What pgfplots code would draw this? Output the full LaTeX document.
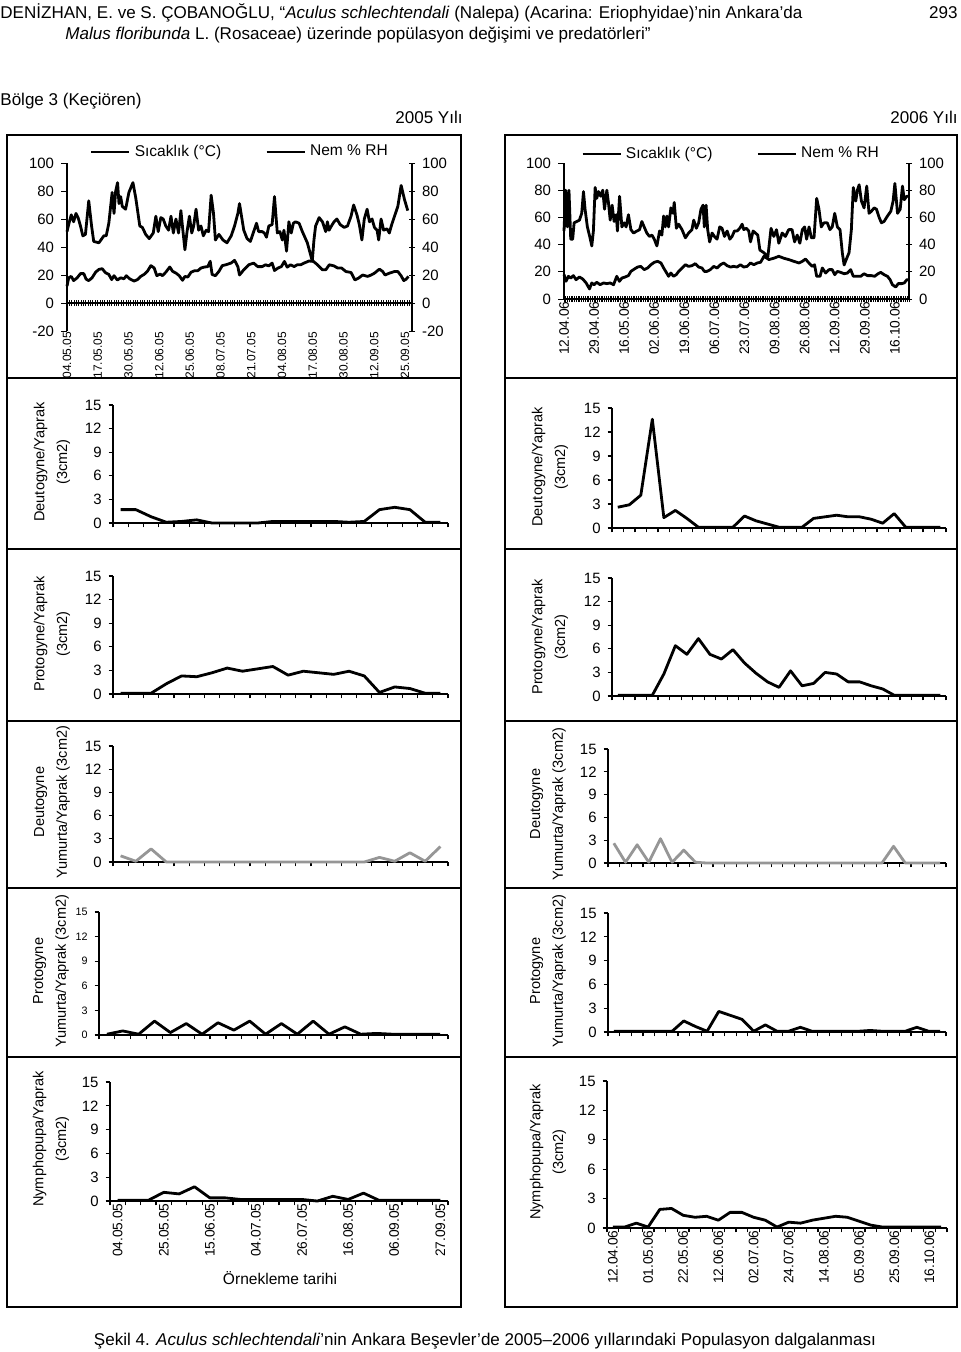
\documentclass[border=0pt]{standalone}
\usepackage{fontspec}
\setmainfont{Liberation Sans}
\usepackage{pgfplots}
\pgfplotsset{compat=1.18}
\newcommand\fh{\fontsize{8.55}{10}\selectfont}
\newcommand\fc{\fontsize{8.55}{10}\selectfont}
\newcommand\ft{\fontsize{7.5}{9}\selectfont}
\newcommand\fts{\fontsize{5.4}{6}\selectfont}
\newcommand\fl{\fontsize{7.3}{11.5}\selectfont}
\newcommand\fd{\fontsize{6.9}{8}\selectfont}
\newcommand\fdd{\fontsize{6.0}{7}\selectfont}
\newcommand\fg{\fontsize{7.8}{9}\selectfont}
\definecolor{lgray}{RGB}{150,150,150}
\pgfplotsset{
  /pgf/number format/assume math mode=true,
  panel/.style={
    scale only axis, anchor=south west, clip=false,
    axis x line*=bottom, axis y line*=left,
    ymin=0, ymax=15, ytick={0,3,...,15},
    tick align=outside, major tick length=2.2bp,
    tick style={black, line width=0.6bp},
    axis line style={black, line width=0.6bp},
    yticklabel style={font=\ft},
    xticklabels={},
  },
  lpanel/.style={panel, xmin=-0.5, xmax=21.5, xtick={-0.5,0.5,...,21.5}},
  rpanel/.style={panel, xmin=-0.5, xmax=28.5, xtick={-0.5,0.5,...,28.5}},
  dline/.style={black, line width=1.4bp, mark=none, line join=round},
  gline/.style={lgray, line width=1.4bp, mark=none, line join=round},
  clim/.style={
    scale only axis, anchor=south west, clip=false,
    major tick length=3bp,
    tick style={black, line width=0.5bp},
    axis line style={black, line width=0.6bp},
    yticklabel style={font=\ft},
  },
}
\begin{document}
\begin{tikzpicture}[x=0.5bp,y=-0.5bp]
\useasboundingbox (0,0) rectangle (960,1352);
% ---------- header ----------
\node[anchor=base west, inner sep=0, font=\fh] at (0,19) {DENİZHAN, E. ve S. ÇOBANOĞLU, “\textit{Aculus schlechtendali} (Nalepa) (Acarina: Eriophyidae)’nin Ankara’da};
\node[anchor=base east, inner sep=0, font=\fh] at (958,19) {293};
\node[anchor=base west, inner sep=0, font=\fh] at (65,40) {\textit{Malus floribunda} L. (Rosaceae) üzerinde popülasyon değişimi ve predatörleri”};
\node[anchor=base west, inner sep=0, font=\fh] at (0,106) {Bölge 3 (Keçiören)};
\node[anchor=base, inner sep=0, font=\fh] at (429,124) {2005 Yılı};
\node[anchor=base east, inner sep=0, font=\fh] at (958,124) {2006 Yılı};
% ---------- frames ----------
\foreach \a/\b in {135/378,378/549,549/721,721/888,888/1057,1057/1307}{
  \draw[line width=1bp] (7,\a) rectangle (461,\b);
  \draw[line width=1bp] (505,\a) rectangle (957,\b);
}
% ---------- 2005 climate ----------
\begin{axis}[clim, at={(33.5bp,-165.5bp)}, width=172.5bp, height=84bp,
  xmin=0, xmax=146, ymin=-20, ymax=100,
  axis y line*=left, axis x line*=middle,
  ytick={-20,0,...,100}, ytick align=outside,
  xtick={0,1,...,146}, xticklabels={}, xtick align=center,
  legend style={at={(0.504,1.065)}, anchor=center, draw=none, fill=none, legend columns=2, font=\fg, /tikz/every even column/.append style={column sep=20bp}},
  legend image code/.code={\draw[#1] (0bp,0bp) -- (19bp,0bp);},
]
\addplot[dline] coordinates {(0,12)(0.7,18)(1.8,19)(2.8,16)(4.3,18)(5.7,21)(7.1,21)(8.1,17)(9.2,16)(10.6,18)(12.1,22)(13.5,24)(14.9,24.5)(16.3,21.6)(17.7,20.4)(18.9,16.7)(19.9,19.5)(21.3,16.4)(22.7,18)(24.1,17.3)(25.1,19.5)(26.5,17.3)(28.4,15.7)(29.8,16.7)(31.2,19)(32.6,20.4)(34,22.6)(35.5,26.7)(36.9,25)(38,19.5)(39.4,20.7)(40.4,19.5)(41.8,22)(43.5,25.7)(44.7,22.6)(46.1,21.4)(47.5,19.5)(48.9,16.2)(49.9,19)(51.1,18.5)(52.5,22)(53.9,23)(55.3,23)(56.7,25)(58.2,25.7)(59.6,26)(60.6,29.8)(61.4,20.4)(62.8,19.5)(64.3,22.6)(65.7,26.7)(67.4,27.4)(69.5,28.6)(70.9,30.5)(72.3,26)(73,20)(74.8,23.7)(76.9,27.3)(79,28.5)(80.7,26)(82.6,26)(84,27.3)(85.4,26.5)(86.8,28.5)(87.8,23.2)(89.2,24.9)(90.7,26)(92,29.7)(93.2,25.6)(94.6,27.3)(96.1,26)(97.4,27.3)(98.9,27.3)(100.3,28.5)(102.4,30)(104.3,29.7)(106,27.3)(108.1,23.7)(109.5,23.7)(111,27.3)(113,26.5)(114.5,25)(116.2,25)(118,22.5)(120.2,21.8)(121.8,16.5)(123.3,17.7)(125.1,20)(127.2,19)(128.7,20)(130.1,21.3)(132.2,24.2)(133.6,22.5)(134.6,20)(136.4,21.3)(138.6,22.5)(140,22.5)(141.4,19.4)(142.5,16)(143.5,17)(144.5,19)};
\addlegendentry{Sıcaklık (°C)}
\addplot[dline] coordinates {(0,51)(0.7,56)(1.8,63)(2.8,58)(3.8,64)(4.7,61)(5.7,55)(6.7,48)(7.8,49)(9.2,73)(10.4,55)(11.3,44)(13.5,43)(15.6,48)(16.6,48)(17.7,57)(19.1,79)(19.9,64)(20.6,80)(21.4,86)(22,71)(22.7,76)(23.4,69)(24.8,67)(26.2,79)(27.9,86)(29.1,75)(30.8,55)(31.9,54)(33.3,49)(34.8,46)(36.5,50)(37.6,62)(38.6,51)(39.7,61)(40.7,60)(41.8,55)(43,52)(44,62)(45,50)(46.1,60)(47.2,50)(48.2,66)(48.9,54)(49.9,38)(50.8,51)(51.8,62)(52.8,50)(53.6,55)(54.6,67)(55.7,52)(56.7,55)(57.7,48)(58.9,52)(59.9,51)(61,77)(62,64)(62.8,45)(64.3,49)(66,45)(67.7,43)(69.5,48)(70.9,55)(72.3,64)(73,71)(74.8,52)(76.2,46)(77.6,44)(79,51)(80.2,57)(81.1,51)(82.6,51)(83.5,50)(84.4,47)(85.4,55)(86.8,56)(87.8,76)(89,50)(90.1,51)(91.1,45)(91.8,52)(92.9,37)(93.9,58)(94.9,50)(95.8,57)(96.7,58)(98.2,57)(99.6,51)(101.7,43)(103.8,30)(104.5,45)(105.2,55)(106.7,61)(108.1,58)(109.5,51)(110.2,58)(110.9,52)(111.9,55)(113,58)(114.2,60)(115.6,56)(117.3,54)(118.7,55)(120.2,62)(121.3,70)(122.7,63)(123.7,56)(124.8,45)(125.8,60)(127,67)(128,58)(129.1,60)(130.1,54)(131.2,52)(131.9,45)(132.9,60)(134,52)(135.4,53)(136.4,50)(137.4,56)(138.6,62)(140,69)(141.4,84)(142.8,74)(144.2,66)};
\addlegendentry{Nem \% RH}
\end{axis}
\begin{axis}[clim, at={(33.5bp,-165.5bp)}, width=172.5bp, height=84bp,
  xmin=0, xmax=146, ymin=-20, ymax=100,
  axis y line*=right, axis x line*=bottom, x axis line style={draw=none},
  ytick={-20,0,...,100}, ytick align=center,
  xtick={0,13,...,143}, xtick style={draw=none},
  xticklabels={04.05.05,17.05.05,30.05.05,12.06.05,25.06.05,08.07.05,21.07.05,04.08.05,17.08.05,30.08.05,12.09.05,25.09.05},
  xticklabel style={rotate=90, anchor=east, font=\fdd, inner sep=0.3bp},
]
\end{axis}
% ---------- 2006 climate ----------
\begin{axis}[clim, at={(282bp,-149.5bp)}, width=172.5bp, height=68bp,
  xmin=0, xmax=195, ymin=0, ymax=100,
  axis y line*=left, axis x line*=bottom,
  ytick={0,20,...,100}, ytick align=outside,
  xtick={0,1,...,195}, xticklabels={}, xtick align=center,
  legend style={at={(0.487,1.066)}, anchor=center, draw=none, fill=none, legend columns=2, font=\fg, /tikz/every even column/.append style={column sep=20bp}},
  legend image code/.code={\draw[#1] (0bp,0bp) -- (19bp,0bp);},
]
\addplot[dline] coordinates {(0,18)(1.1,13)(2.5,16.7)(3.8,15.4)(5.3,17.2)(6.8,14.2)(8.7,16.2)(10.6,14.7)(12.5,11.8)(14.4,7.4)(15.7,11.8)(17,10.5)(18.5,12.3)(20.4,10.5)(22.3,11.8)(24.2,11.3)(26.1,11.8)(28,10.5)(29.8,16.7)(31.3,13)(32.7,15.4)(34.6,16.2)(36.4,17.2)(37.8,20.3)(39.7,22)(41.6,23.5)(43.4,24)(45.3,21.6)(47.2,22.8)(49.1,25.2)(51,27)(52.9,27.7)(54.8,26.5)(56.3,22.8)(57.8,19.6)(59.1,16.7)(60.4,19.1)(61.9,16.7)(63.4,17.9)(64.8,20.3)(66.7,22.8)(68.6,25.2)(70.4,24)(72.3,24.5)(74.2,26)(76.1,23.5)(78,22.8)(79.3,20.3)(80.8,20.3)(82.7,21.6)(84.6,24)(86.5,22.8)(88.4,25.2)(90.3,26.5)(92.2,24.5)(94.1,23.5)(95.9,24)(97.8,23.5)(99.7,25.2)(101.6,23.5)(103.5,24)(105.4,26.5)(107.3,25.2)(109.2,26.5)(111.1,27)(113,31.4)(115.8,29)(118.6,30)(121.4,31.4)(124.2,30)(127,29)(129.9,27.7)(132.8,26.5)(134.7,27.7)(136.5,29.4)(138.4,26.5)(140.3,24)(141.6,25.2)(142.8,16.7)(144.7,16.7)(146,22.8)(147.9,19.1)(149.8,21.6)(151.6,21.6)(153,17.9)(154.5,20.3)(156.4,19.6)(158.3,18.6)(160.2,19.1)(162,21.6)(163.5,16.7)(165.8,16.7)(167.7,16.7)(169.6,18.6)(171.5,17.2)(173.7,17.2)(175.6,16.7)(177.5,18.6)(179,19.6)(180.9,17.9)(182.8,16.7)(184.3,14.2)(185.6,10.5)(187.5,8.8)(188.9,11.3)(190.8,11.3)(192.3,11.8)(193.8,14.2)(194.7,14.2)};
\addlegendentry{Sıcaklık (°C)}
\addplot[dline] coordinates {(0,50)(0.9,80)(1.9,53)(2.8,80)(3.8,44)(4.9,44)(5.7,56)(7.2,57)(8.7,58)(10,63)(11,79)(11.9,66)(13.2,53)(14.7,45)(15.7,39)(16.6,50)(17.6,82)(18.5,74)(19.5,79)(20.8,75.5)(21.9,80)(22.9,66)(24.2,80)(25.1,71)(26.1,58)(27.2,69)(28.3,57)(29.5,62)(30.2,50)(31.4,75.5)(32.7,53)(34,56)(35.1,53)(36.4,62)(37.8,51)(39.3,48.5)(41.2,50)(42.7,51)(44,57)(45.3,53)(46.8,48.5)(48.3,46)(49.7,47)(51,44)(52.5,39)(54,50)(55.3,47)(56.3,61)(57.2,53)(58.2,61)(59.1,53)(60.4,67)(61.6,63)(62.3,71)(63.5,52)(64.8,55)(66.7,51)(68.6,45)(70.4,48.5)(72.3,51)(73.3,58)(74.8,52)(76.1,56)(77.4,66)(78.6,69)(79.3,53)(80.3,69)(81.2,51)(82.3,42)(83.7,48.5)(85,46)(86.5,44)(88,53)(89.3,52)(90.7,46)(92.2,50)(93.7,44)(95,46)(96.3,50)(97.8,50)(99.3,52)(100.7,55)(101.6,51)(103.1,52)(104.4,50)(105.4,42)(106.9,50)(108.2,48.5)(109.5,47)(110.7,36)(113,34)(115.2,31)(117,52)(118.6,46)(120.1,51)(121.4,41)(123.3,48.5)(125.1,46)(127,51)(128.9,51)(130.3,42)(131.8,47)(133.3,41)(134.7,51)(136,53)(137.1,44)(138.5,53)(139.8,45)(141.3,45)(142.8,74)(144.1,66)(145.4,53)(146.9,56)(148.8,56)(150.3,51)(151.6,53)(153,63)(154.5,53)(156,51)(157.3,34)(158.3,25)(159.8,30)(161.1,34)(162.4,51)(163.5,82)(164.9,72)(165.8,80)(166.8,84)(168.1,72)(169.6,67)(171.1,83)(172.4,63)(173.7,64.5)(175.3,67)(176.6,66)(178.1,60)(179.4,56)(180.9,57)(182.8,61)(184.7,64.5)(186,72)(187,85)(188.5,63)(190,66)(191.3,83)(192.3,73)(193.7,75.5)(194.7,75.5)};
\addlegendentry{Nem \% RH}
\end{axis}
\begin{axis}[clim, at={(282bp,-149.5bp)}, width=172.5bp, height=68bp,
  xmin=0, xmax=195, ymin=0, ymax=100,
  axis y line*=right, axis x line*=bottom, x axis line style={draw=none},
  ytick={0,20,...,100}, ytick align=center,
  xtick={0,17,...,187}, xtick style={draw=none},
  xticklabels={12.04.06,29.04.06,16.05.06,02.06.06,19.06.06,06.07.06,23.07.06,09.08.06,26.08.06,12.09.06,29.09.06,16.10.06},
  xticklabel style={rotate=90, anchor=east, font=\fd, inner sep=1bp},
]
\end{axis}
% ---------- left panels (2005) ----------
\begin{axis}[lpanel, at={(56.5bp,-261.5bp)}, width=167.5bp, height=59bp]
\addplot[dline] coordinates {(0,1.7)(1,1.7)(2,0.8)(3,0.1)(4,0.2)(5,0.4)(6,0)(7,0)(8,0)(9,0)(10,0.2)(11,0.2)(12,0.2)(13,0.2)(14,0.2)(15,0.1)(16,0.2)(17,1.7)(18,2.0)(19,1.7)(20,0.1)(21,0.1)};
\end{axis}
\begin{axis}[lpanel, at={(56.5bp,-347bp)}, width=167.5bp, height=59bp]
\addplot[dline] coordinates {(0,0.1)(1,0.1)(2,0.1)(3,1.3)(4,2.3)(5,2.2)(6,2.7)(7,3.3)(8,2.9)(9,3.2)(10,3.5)(11,2.4)(12,2.9)(13,2.7)(14,2.5)(15,2.9)(16,2.3)(17,0.2)(18,0.9)(19,0.7)(20,0.1)(21,0.1)};
\end{axis}
\begin{axis}[lpanel, at={(56.5bp,-431bp)}, width=167.5bp, height=58bp]
\addplot[gline] coordinates {(0,0.8)(1,0.1)(2,1.7)(3,0)(4,0)(5,0)(6,0)(7,0)(8,0)(9,0)(10,0)(11,0)(12,0)(13,0)(14,0)(15,0)(16,0)(17,0.6)(18,0.1)(19,1.2)(20,0.1)(21,2.0)};
\end{axis}
\begin{axis}[lpanel, at={(49.5bp,-517.5bp)}, width=174.5bp, height=61.5bp, yticklabel style={font=\fts}]
\addplot[dline] coordinates {(0,0.1)(1,0.5)(2,0.1)(3,1.7)(4,0.3)(5,1.4)(6,0.1)(7,1.5)(8,0.6)(9,1.7)(10,0.1)(11,1.4)(12,0.1)(13,1.7)(14,0.1)(15,1.0)(16,0.1)(17,0.2)(18,0.1)(19,0.1)(20,0.1)(21,0.1)};
\end{axis}
\begin{axis}[lpanel, at={(55bp,-600.5bp)}, width=169bp, height=59.5bp,
  extra x ticks={0,3,...,21},
  extra x tick labels={04.05.05,25.05.05,15.06.05,04.07.05,26.07.05,16.08.05,06.09.05,27.09.05},
  extra x tick style={major tick length=0pt, tick style={draw=none}, tick label style={rotate=90, anchor=east, font=\fd, inner sep=1bp}}]
\addplot[dline] coordinates {(0,0.1)(1,0.1)(2,0.1)(3,1.1)(4,0.9)(5,1.8)(6,0.4)(7,0.4)(8,0.2)(9,0.2)(10,0.2)(11,0.2)(12,0.2)(13,0)(14,0.6)(15,0.2)(16,1.0)(17,0.1)(18,0.1)(19,0.1)(20,0.1)(21,0.1)};
\end{axis}
% ---------- right panels (2006) ----------
\begin{axis}[rpanel, at={(306bp,-264bp)}, width=167bp, height=60bp]
\addplot[dline] coordinates {(0,2.6)(1,2.9)(2,4.1)(3,13.6)(4,1.3)(5,2.2)(6,1.2)(7,0.1)(8,0.1)(9,0.1)(10,0.1)(11,1.5)(12,0.9)(13,0.5)(14,0.1)(15,0.1)(16,0.1)(17,1.2)(18,1.4)(19,1.6)(20,1.4)(21,1.4)(22,1.1)(23,0.6)(24,1.8)(25,0.1)(26,0.1)(27,0.1)(28,0.1)};
\end{axis}
\begin{axis}[rpanel, at={(306bp,-348bp)}, width=167bp, height=59bp]
\addplot[dline] coordinates {(0,0.1)(1,0.1)(2,0.1)(3,0.1)(4,2.8)(5,6.4)(6,5.3)(7,7.3)(8,5.3)(9,4.7)(10,5.9)(11,4.2)(12,2.9)(13,1.8)(14,1.1)(15,3.2)(16,1.3)(17,1.6)(18,3.0)(19,2.8)(20,1.8)(21,1.8)(22,1.3)(23,0.9)(24,0.1)(25,0.1)(26,0.1)(27,0.1)(28,0.1)};
\end{axis}
\begin{axis}[rpanel, at={(304bp,-431.5bp)}, width=169bp, height=57bp]
\addplot[gline] coordinates {(0,2.6)(1,0.1)(2,2.4)(3,0.1)(4,3.2)(5,0.1)(6,1.7)(7,0.1)(8,0)(9,0)(10,0)(11,0)(12,0)(13,0)(14,0)(15,0)(16,0)(17,0)(18,0)(19,0)(20,0)(21,0)(22,0)(23,0)(24,2.2)(25,0)(26,0)(27,0)(28,0)};
\end{axis}
\begin{axis}[rpanel, at={(304bp,-516bp)}, width=169bp, height=59.5bp]
\addplot[dline] coordinates {(0,0.1)(1,0.1)(2,0.1)(3,0.1)(4,0.1)(5,0.1)(6,1.4)(7,0.7)(8,0.1)(9,2.6)(10,2.1)(11,1.6)(12,0.1)(13,0.9)(14,0.1)(15,0.1)(16,0.6)(17,0.1)(18,0.1)(19,0.1)(20,0.1)(21,0.1)(22,0.2)(23,0.1)(24,0.1)(25,0.1)(26,0.6)(27,0.1)(28,0.1)};
\end{axis}
\begin{axis}[rpanel, at={(303.5bp,-614bp)}, width=170bp, height=73.5bp,
  extra x ticks={0,3,...,27},
  extra x tick labels={12.04.06,01.05.06,22.05.06,12.06.06,02.07.06,24.07.06,14.08.06,05.09.06,25.09.06,16.10.06},
  extra x tick style={major tick length=0pt, tick style={draw=none}, tick label style={rotate=90, anchor=east, font=\fd, inner sep=1bp}}]
\addplot[dline] coordinates {(0,0.1)(1,0.1)(2,0.5)(3,0.1)(4,1.9)(5,2.0)(6,1.3)(7,1.1)(8,1.2)(9,0.8)(10,1.6)(11,1.6)(12,1.1)(13,0.8)(14,0.1)(15,0.6)(16,0.5)(17,0.8)(18,1.0)(19,1.2)(20,1.1)(21,0.7)(22,0.3)(23,0.1)(24,0.1)(25,0.1)(26,0.1)(27,0.1)(28,0.1)};
\end{axis}
% ---------- y labels ----------
\node[rotate=90, align=center, font=\fl] at (52,462) {Deutogyne/Yaprak\\(3cm2)};
\node[rotate=90, align=center, font=\fl] at (52,634) {Protogyne/Yaprak\\(3cm2)};
\node[rotate=90, align=center, font=\fl] at (52,802) {Deutogyne\\Yumurta/Yaprak (3cm2)};
\node[rotate=90, align=center, font=\fl] at (51,971) {Protogyne\\Yumurta/Yaprak (3cm2)};
\node[rotate=90, align=center, font=\fl] at (51,1139) {Nymphopupa/Yaprak\\(3cm2)};
\node[rotate=90, align=center, font=\fl] at (550,467) {Deutogyne/Yaprak\\(3cm2)};
\node[rotate=90, align=center, font=\fl] at (550,637) {Protogyne/Yaprak\\(3cm2)};
\node[rotate=90, align=center, font=\fl] at (548,804) {Deutogyne\\Yumurta/Yaprak (3cm2)};
\node[rotate=90, align=center, font=\fl] at (548,971) {Protogyne\\Yumurta/Yaprak (3cm2)};
\node[rotate=90, align=center, font=\fl] at (548,1152) {Nymphopupa/Yaprak\\(3cm2)};
\node[font=\fg] at (280,1278) {Örnekleme tarihi};
% ---------- caption ----------
\node[anchor=base, inner sep=0, font=\fc] at (485,1345) {Şekil 4. \textit{Aculus schlechtendali}’nin Ankara Beşevler’de 2005–2006 yıllarındaki Populasyon dalgalanması};
\end{tikzpicture}
\end{document}
